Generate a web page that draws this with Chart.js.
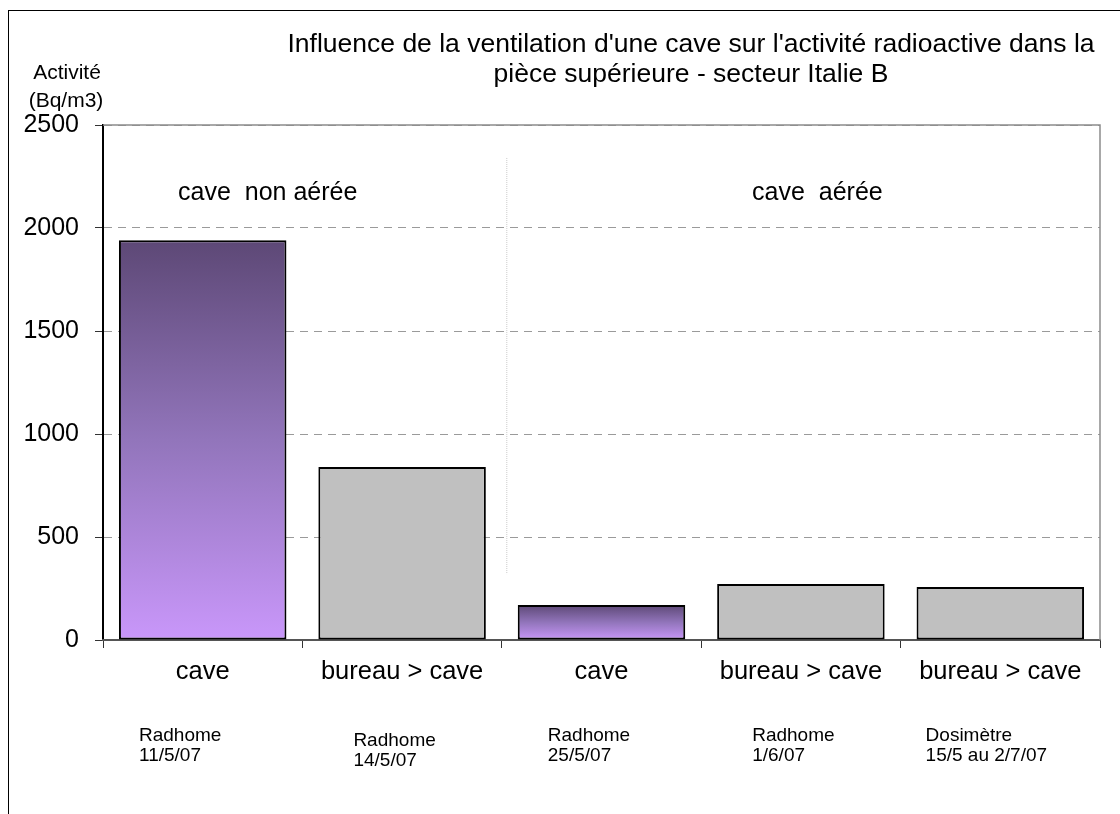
<!DOCTYPE html>
<html>
<head>
<meta charset="utf-8">
<script src="https://cdn.jsdelivr.net/npm/chart.js@4/dist/chart.umd.min.js"></script>
<style>
  html, body { margin: 0; padding: 0; background: #fff; }
  #wrap { width: 1120px; height: 814px; position: relative; }
</style>
</head>
<body>
<div id="wrap"><canvas id="radonChart" width="1120" height="814"></canvas></div>
<script>
// values
const categories = ['cave', 'bureau > cave', 'cave', 'bureau > cave', 'bureau > cave'];
const activity = [1940, 840, 170, 272, 257];
const isCave = [true, false, true, false, false];
const notes = [
    ['Radhome', '11/5/07'],
    ['Radhome', '14/5/07'],
    ['Radhome', '25/5/07'],
    ['Radhome', '1/6/07'],
    ['Dosimètre', '15/5 au 2/7/07']
];
const yTicks = [0, 500, 1000, 1500, 2000, 2500];
const groupLabels = ['cave  non aérée', 'cave  aérée'];
const titleLines = [
    "Influence de la ventilation d'une cave sur l'activité radioactive dans la",
    'pièce supérieure - secteur Italie B'
];
const axisTitle = ['Activité', '(Bq/m3)'];

// layout only (offsets of the small notes within each category)
const noteDx = [36, 51, 46, 51, 25];
const noteDy = [0, 5, 0, 0, 0];

const FONT = '"Liberation Sans", Arial, sans-serif';

function barFill(c) {
    const i = c.dataIndex;
    if (!isCave[i]) return '#c0c0c0';
    const chart = c.chart;
    const y = chart.scales && chart.scales.y;
    if (!chart.chartArea || !y) return '#9a78c4';
    const top = y.getPixelForValue(activity[i]);
    const base = y.getPixelForValue(0);
    const g = chart.ctx.createLinearGradient(0, top, 0, base);
    g.addColorStop(0, '#5d4876');
    g.addColorStop(0.5, '#9275bb');
    g.addColorStop(1, '#c997fa');
    return g;
}

const decorations = {
    id: 'decorations',
    afterDraw(chart) {
        const { ctx, chartArea: a, scales: { x, y } } = chart;
        ctx.save();

        // outer frame
        ctx.strokeStyle = '#000';
        ctx.lineWidth = 1;
        ctx.strokeRect(8.5, 10.5, 1300, 1000);

        // plot area top and right edges
        ctx.strokeStyle = '#8c8c8c';
        ctx.lineWidth = 1.5;
        ctx.beginPath();
        ctx.moveTo(a.left, a.top);
        ctx.lineTo(a.right, a.top);
        ctx.lineTo(a.right, a.bottom);
        ctx.stroke();

        // separator between the two groups
        const sep = (x.getPixelForValue(1) + x.getPixelForValue(2)) / 2 + 5;
        ctx.strokeStyle = '#c8c8c8';
        ctx.lineWidth = 1;
        ctx.setLineDash([1, 1]);
        ctx.beginPath();
        ctx.moveTo(sep, y.getPixelForValue(2340));
        ctx.lineTo(sep, y.getPixelForValue(320));
        ctx.stroke();
        ctx.setLineDash([]);

        // title
        ctx.fillStyle = '#000';
        ctx.textAlign = 'center';
        ctx.textBaseline = 'middle';
        ctx.font = '26.5px ' + FONT;
        ctx.fillText(titleLines[0], 691, 45);
        ctx.fillText(titleLines[1], 691, 75);

        // y axis title
        ctx.font = '21px ' + FONT;
        ctx.fillText(axisTitle[0], 67, 73);
        ctx.fillText(axisTitle[1], 66, 101);

        // group labels
        ctx.font = '25px ' + FONT;
        const gy = y.getPixelForValue(2170);
        ctx.fillText(groupLabels[0], x.getPixelForValue(0) + 65, gy);
        ctx.fillText(groupLabels[1], (sep + a.right) / 2 + 14, gy);

        // measurement notes under the axis
        ctx.font = '19px ' + FONT;
        ctx.textAlign = 'left';
        notes.forEach((n, i) => {
            const left = x.getPixelForValue(i) - (x.getPixelForValue(1) - x.getPixelForValue(0)) / 2;
            const tx = left + noteDx[i];
            const ty = 736 + noteDy[i];
            ctx.fillText(n[0], tx, ty);
            ctx.fillText(n[1], tx, ty + 20);
        });

        ctx.restore();
    }
};

new Chart(document.getElementById('radonChart'), {
    type: 'bar',
    data: {
        labels: categories,
        datasets: [{
            data: activity,
            backgroundColor: barFill,
            borderColor: '#000',
            borderWidth: 2,
            borderSkipped: false,
            barPercentage: 1,
            categoryPercentage: 0.84
        }]
    },
    options: {
        responsive: false,
        animation: false,
        layout: { padding: { left: 0, top: 125, right: 20, bottom: 0 } },
        plugins: {
            legend: { display: false },
            tooltip: { enabled: false },
            title: { display: false }
        },
        scales: {
            y: {
                min: 0,
                max: 2500,
                afterBuildTicks: s => { s.ticks = yTicks.map(v => ({ value: v })); },
                afterFit: s => { s.width = 103; },
                ticks: {
                    color: '#000',
                    font: { family: FONT, size: 25 },
                    padding: 16,
                    callback: v => String(v)
                },
                grid: {
                    color: '#9a9a9a',
                    lineWidth: 1,
                    tickLength: 8,
                    tickColor: '#333'
                },
                border: { display: true, color: '#000', width: 2, dash: [8, 6] }
            },
            x: {
                afterFit: s => { s.height = 174; },
                ticks: {
                    color: '#000',
                    font: { family: FONT, size: 25.5 },
                    padding: 9
                },
                grid: {
                    offset: true,
                    drawOnChartArea: false,
                    tickLength: 8,
                    tickColor: '#333'
                },
                border: { display: true, color: '#555', width: 2 }
            }
        }
    },
    plugins: [decorations]
});
</script>
</body>
</html>
